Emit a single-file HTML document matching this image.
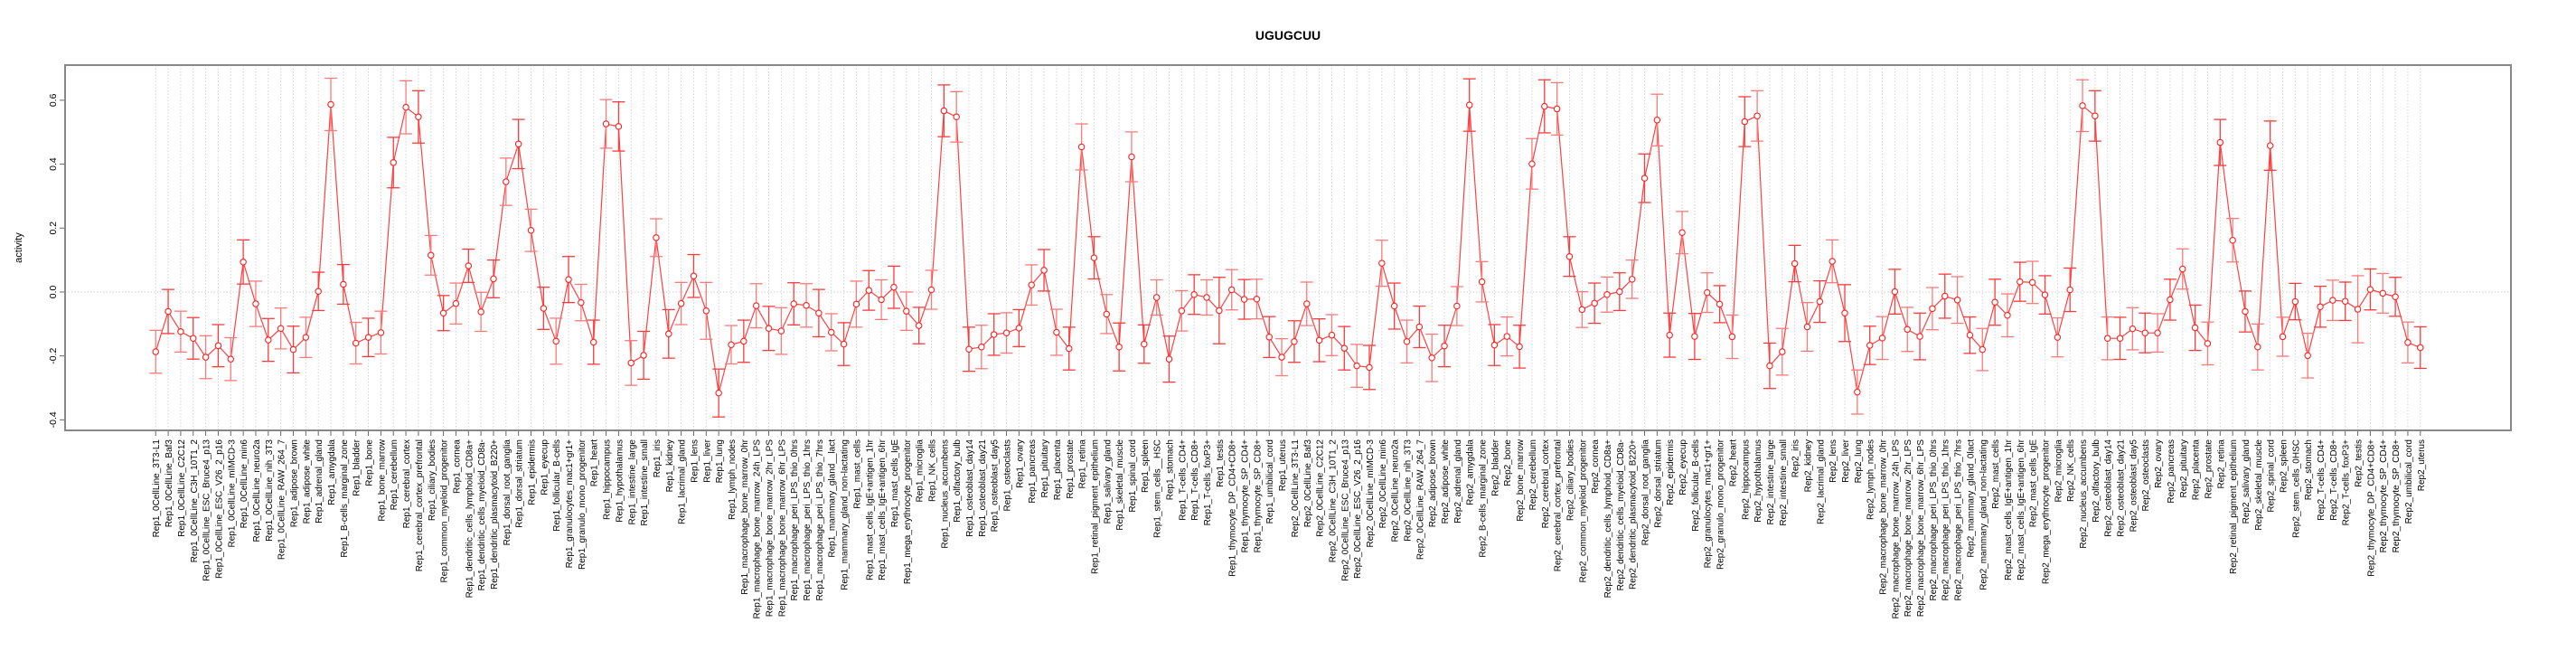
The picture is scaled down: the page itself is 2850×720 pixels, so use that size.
<!DOCTYPE html>
<html><head><meta charset="utf-8"><style>
html,body{margin:0;padding:0;background:#fff;}
svg{display:block;font-family:"Liberation Sans",Arial,sans-serif;}
</style></head><body>
<svg id="chart" width="2850" height="720" viewBox="0 0 2850 720" xmlns="http://www.w3.org/2000/svg">
<text x="1425" y="44" text-anchor="middle" font-size="14" font-weight="bold">UGUGCUU</text>
<text transform="translate(24,274) rotate(-90)" text-anchor="middle" font-size="11">activity</text>
<g id="grid"></g><g id="series"></g><g id="axes"></g>
<rect x="72" y="72" width="2706" height="404" fill="none" stroke="#888" stroke-width="2"/>
</svg>
<script>
const tissues = ["0CellLine_3T3-L1","0CellLine_Baf3","0CellLine_C2C12","0CellLine_C3H_10T1_2","0CellLine_ESC_Bruce4_p13","0CellLine_ESC_V26_2_p16","0CellLine_mIMCD-3","0CellLine_min6","0CellLine_neuro2a","0CellLine_nih_3T3","0CellLine_RAW_264_7","adipose_brown","adipose_white","adrenal_gland","amygdala","B-cells_marginal_zone","bladder","bone","bone_marrow","cerebellum","cerebral_cortex","cerebral_cortex_prefrontal","ciliary_bodies","common_myeloid_progenitor","cornea","dendritic_cells_lymphoid_CD8a+","dendritic_cells_myeloid_CD8a-","dendritic_plasmacytoid_B220+","dorsal_root_ganglia","dorsal_striatum","epidermis","eyecup","follicular_B-cells","granulocytes_mac1+gr1+","granulo_mono_progenitor","heart","hippocampus","hypothalamus","intestine_large","intestine_small","iris","kidney","lacrimal_gland","lens","liver","lung","lymph_nodes","macrophage_bone_marrow_0hr","macrophage_bone_marrow_24h_LPS","macrophage_bone_marrow_2hr_LPS","macrophage_bone_marrow_6hr_LPS","macrophage_peri_LPS_thio_0hrs","macrophage_peri_LPS_thio_1hrs","macrophage_peri_LPS_thio_7hrs","mammary_gland__lact","mammary_gland_non-lactating","mast_cells","mast_cells_IgE+antigen_1hr","mast_cells_IgE+antigen_6hr","mast_cells_IgE","mega_erythrocyte_progenitor","microglia","NK_cells","nucleus_accumbens","olfactory_bulb","osteoblast_day14","osteoblast_day21","osteoblast_day5","osteoclasts","ovary","pancreas","pituitary","placenta","prostate","retina","retinal_pigment_epithelium","salivary_gland","skeletal_muscle","spinal_cord","spleen","stem_cells__HSC","stomach","T-cells_CD4+","T-cells_CD8+","T-cells_foxP3+","testis","thymocyte_DP_CD4+CD8+","thymocyte_SP_CD4+","thymocyte_SP_CD8+","umbilical_cord","uterus"];
const categories = tissues.map(t => "Rep1_" + t).concat(tissues.map(t => "Rep2_" + t.replace("mammary_gland__lact","mammary_gland_0lact").replace("stem_cells__HSC","stem_cells_0HSC")));
const values = [-0.187,-0.061,-0.124,-0.145,-0.204,-0.168,-0.210,0.094,-0.037,-0.150,-0.114,-0.180,-0.142,0.002,0.587,0.024,-0.160,-0.142,-0.127,0.405,0.578,0.548,0.115,-0.066,-0.036,0.082,-0.062,0.041,0.345,0.463,0.193,-0.051,-0.154,0.039,-0.033,-0.157,0.526,0.518,-0.222,-0.198,0.170,-0.131,-0.036,0.050,-0.059,-0.316,-0.165,-0.154,-0.043,-0.114,-0.122,-0.037,-0.042,-0.066,-0.126,-0.163,-0.038,0.005,-0.024,0.015,-0.060,-0.105,0.007,0.567,0.548,-0.179,-0.172,-0.133,-0.128,-0.113,0.022,0.068,-0.126,-0.177,0.454,0.107,-0.069,-0.172,0.423,-0.163,-0.017,-0.210,-0.059,-0.008,-0.017,-0.058,0.007,-0.023,-0.022,-0.141,-0.204,
-0.155,-0.037,-0.151,-0.135,-0.176,-0.231,-0.236,0.090,-0.044,-0.155,-0.109,-0.206,-0.169,-0.044,0.585,0.032,-0.166,-0.139,-0.171,0.401,0.581,0.573,0.111,-0.055,-0.035,-0.008,0.001,0.040,0.356,0.538,-0.135,0.186,-0.139,-0.002,-0.038,-0.140,0.533,0.551,-0.231,-0.187,0.089,-0.109,-0.030,0.096,-0.066,-0.313,-0.167,-0.144,0.001,-0.117,-0.139,-0.052,-0.013,-0.025,-0.135,-0.180,-0.032,-0.073,0.032,0.030,-0.009,-0.142,0.007,0.583,0.551,-0.145,-0.145,-0.115,-0.128,-0.128,-0.024,0.072,-0.112,-0.161,0.468,0.162,-0.061,-0.172,0.458,-0.140,-0.030,-0.199,-0.046,-0.026,-0.029,-0.054,0.008,-0.004,-0.015,-0.158,-0.174];
const errors = [0.067,0.069,0.064,0.065,0.067,0.066,0.067,0.069,0.071,0.067,0.064,0.073,0.063,0.060,0.082,0.062,0.065,0.060,0.067,0.079,0.083,0.082,0.062,0.055,0.064,0.052,0.061,0.059,0.074,0.077,0.066,0.066,0.072,0.072,0.057,0.069,0.076,0.077,0.070,0.075,0.059,0.076,0.066,0.067,0.089,0.075,0.060,0.066,0.069,0.069,0.073,0.066,0.068,0.074,0.058,0.067,0.072,0.062,0.062,0.066,0.060,0.057,0.061,0.081,0.079,0.069,0.068,0.065,0.063,0.058,0.063,0.065,0.072,0.067,0.072,0.066,0.061,0.075,0.078,0.060,0.055,0.072,0.063,0.062,0.055,0.104,0.063,0.062,0.062,0.064,0.058,
0.065,0.068,0.067,0.064,0.068,0.067,0.069,0.072,0.072,0.067,0.065,0.074,0.065,0.061,0.082,0.063,0.064,0.061,0.067,0.079,0.083,0.082,0.062,0.056,0.063,0.055,0.059,0.060,0.076,0.081,0.069,0.066,0.072,0.062,0.058,0.068,0.078,0.079,0.071,0.073,0.057,0.076,0.065,0.067,0.089,0.069,0.060,0.067,0.070,0.069,0.073,0.066,0.069,0.073,0.057,0.066,0.072,0.067,0.061,0.066,0.060,0.061,0.068,0.081,0.079,0.067,0.066,0.066,0.062,0.060,0.064,0.063,0.071,0.067,0.072,0.068,0.064,0.072,0.077,0.061,0.057,0.070,0.064,0.063,0.060,0.105,0.064,0.062,0.061,0.064,0.065];
const yTicks = [-0.4,-0.2,0.0,0.2,0.4,0.6];

const NS = "http://www.w3.org/2000/svg";
const n = categories.length;
const xL = 72, xR = 2778, yT = 72, yB = 476;
const pad = (n - 1) * 0.04;
function xScale(i) { return xL + (i + pad) / ((n - 1) + 2 * pad) * (xR - xL); }
const vMin = -0.433, vMax = 0.710;
function yScale(v) { return yB - (v - vMin) / (vMax - vMin) * (yB - yT); }
function mk(tag, attrs, parent) {
  const e = document.createElementNS(NS, tag);
  for (const k in attrs) e.setAttribute(k, attrs[k]);
  parent.appendChild(e);
  return e;
}
const grid = document.getElementById("grid");
const series = document.getElementById("series");
const axes = document.getElementById("axes");

for (let i = 0; i < n; i++) {
  const gl = mk("line", {x1: xScale(i), x2: xScale(i), y1: yT, y2: yB, stroke: "#d4d4d4", "stroke-width": 1, "stroke-dasharray": "1.5,2"}, grid);
  
  
}
const zl = mk("line", {x1: xL, x2: xR, y1: yScale(0), y2: yScale(0), stroke: "#cfcfcf", "stroke-width": 1, "stroke-dasharray": "1.5,2"}, grid);



let d = "";
for (let i = 0; i < n; i++) d += (i ? "L" : "M") + xScale(i).toFixed(2) + "," + yScale(values[i]).toFixed(2);
const path = mk("path", {d: d, fill: "none", stroke: "#ff2020", "stroke-width": 1.2, "stroke-opacity": 0.85}, series);



for (let i = 0; i < n; i++) {
  const x = xScale(i), y1 = yScale(values[i] + errors[i]), y2 = yScale(values[i] - errors[i]);
  const g = mk("g", {stroke: i % 2 ? "#ff3b3b" : "#ff7a7a", "stroke-width": 1.3, fill: "none"}, series);
  
  
  mk("line", {x1: x, x2: x, y1: y1, y2: y2}, g);
  mk("line", {x1: x - 7, x2: x + 7, y1: y1, y2: y1}, g);
  mk("line", {x1: x - 7, x2: x + 7, y1: y2, y2: y2}, g);
  const c = mk("circle", {cx: x, cy: yScale(values[i]), r: 3.2, fill: "#fff", stroke: "#ff2020", "stroke-width": 1.1}, series);
  
  
}

for (let i = 0; i < n; i++) {
  const x = xScale(i);
  const t = mk("line", {x1: x, x2: x, y1: yB, y2: yB + 6, stroke: "#666", "stroke-width": 1}, axes);
  
  
  const lb = mk("text", {transform: "translate(" + (x + 4) + "," + (yB + 10) + ") rotate(-90)", "text-anchor": "end", "font-size": 10, fill: "#000"}, axes);
  lb.textContent = categories[i];
  
  
}
for (const v of yTicks) {
  const y = yScale(v);
  const t = mk("line", {x1: xL - 6, x2: xL, y1: y, y2: y, stroke: "#666", "stroke-width": 1}, axes);
  
  
  const lb = mk("text", {transform: "translate(" + (xL - 10) + "," + y + ") rotate(-90)", "text-anchor": "middle", "font-size": 10.5, fill: "#000"}, axes);
  lb.textContent = v.toFixed(1);
  
  
}
</script>
</body></html>
